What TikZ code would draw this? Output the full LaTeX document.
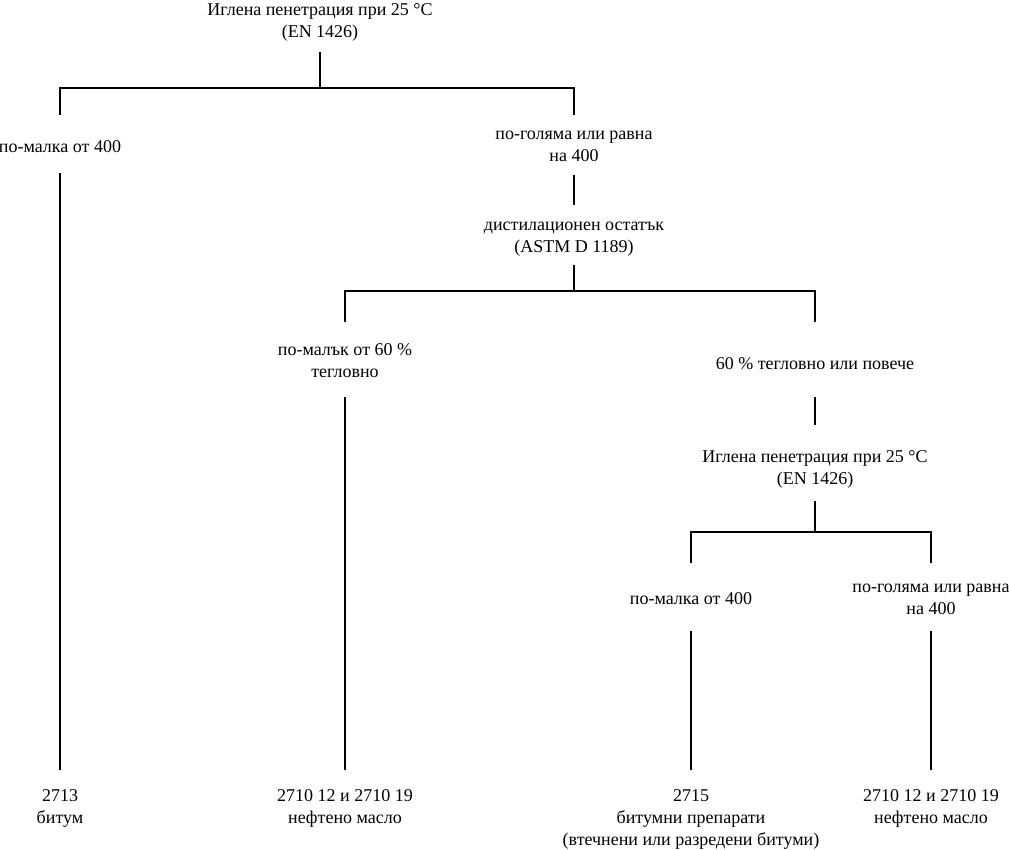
\documentclass[tikz,border=0pt]{standalone}
\usepackage{fontspec}
\setmainfont{Liberation Serif}
\tikzset{
  lbl/.style={align=center, inner sep=0pt, font=\fontsize{18}{22}\selectfont},
  conn/.style={line width=2pt, line join=miter}
}
\begin{document}
\begin{tikzpicture}[x=1pt,y=-1pt]
\useasboundingbox (0,0) rectangle (1009,849);
% texts
\node[lbl] (n0) at (320,22) {Иглена пенетрация при 25 °C\\(EN 1426)};
\node[lbl] (a1) at (60,147) {по-малка от 400};
\node[lbl] (b1) at (574,146) {по-голяма или равна\\на 400};
\node[lbl] (d1) at (574,239) {дистилационен остатък\\(ASTM D 1189)};
\node[lbl] (c1) at (345,361) {по-малък от 60 \%\\тегловно};
\node[lbl] (e1) at (815,364) {60 \% тегловно или повече};
\node[lbl] (n2) at (815,469) {Иглена пенетрация при 25 °C\\(EN 1426)};
\node[lbl] (f1) at (691,599) {по-малка от 400};
\node[lbl] (g1) at (931,599) {по-голяма или равна\\на 400};
\node[lbl,anchor=north] (r1) at (60,789) {2713\\битум};
\node[lbl,anchor=north] (r2) at (345,789) {2710 12 и 2710 19\\нефтено масло};
\node[lbl,anchor=north] (r3) at (691,789) {2715\\битумни препарати\\(втечнени или разредени битуми)};
\node[lbl,anchor=north] (r4) at (931,789) {2710 12 и 2710 19\\нефтено масло};
% connector end points
\coordinate (n0b) at (320,52);  \coordinate (j0) at (320,88);
\coordinate (a1t) at (60,115);  \coordinate (b1t) at (574,115);
\coordinate (a1b) at (60,173);  \coordinate (r1t) at (60,770);
\coordinate (b1b) at (574,175); \coordinate (d1t) at (574,205);
\coordinate (d1b) at (574,265); \coordinate (j1) at (574,291);
\coordinate (c1t) at (345,322); \coordinate (e1t) at (815,322);
\coordinate (c1b) at (345,397); \coordinate (r2t) at (345,770);
\coordinate (e1b) at (815,397); \coordinate (n2t) at (815,425);
\coordinate (n2b) at (815,501); \coordinate (j2) at (815,532);
\coordinate (f1t) at (691,563); \coordinate (g1t) at (931,563);
\coordinate (f1b) at (691,631); \coordinate (r3t) at (691,770);
\coordinate (g1b) at (931,631); \coordinate (r4t) at (931,770);
% connectors
\draw[conn] (n0b) -- (j0);
\draw[conn] (a1t) |- (j0) -| (b1t);
\draw[conn] (a1b) -- (r1t);
\draw[conn] (b1b) -- (d1t);
\draw[conn] (d1b) -- (j1);
\draw[conn] (c1t) |- (j1) -| (e1t);
\draw[conn] (c1b) -- (r2t);
\draw[conn] (e1b) -- (n2t);
\draw[conn] (n2b) -- (j2);
\draw[conn] (f1t) |- (j2) -| (g1t);
\draw[conn] (f1b) -- (r3t);
\draw[conn] (g1b) -- (r4t);
\end{tikzpicture}
\end{document}
